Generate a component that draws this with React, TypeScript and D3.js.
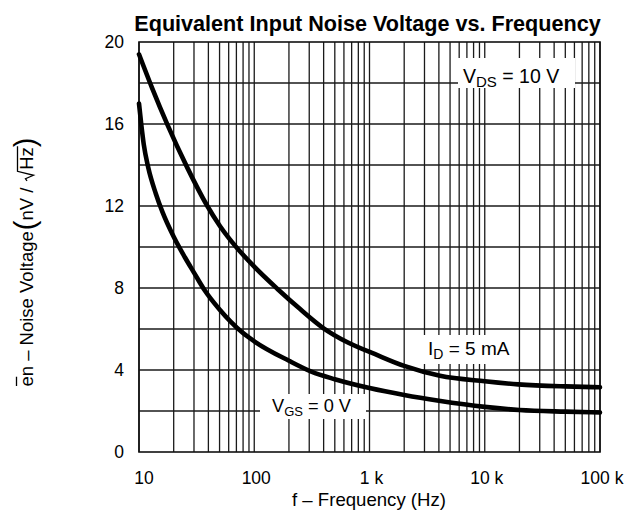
import React, { useLayoutEffect, useRef, useState } from 'react';
import * as d3 from 'd3';

// ---- data ----
const freqUpper = [10, 13, 17.6, 26.3, 38.6, 50, 63.7, 100, 160, 250, 394, 650, 1120, 2000, 4090, 10000, 19500, 50000, 100000];
const noiseUpper = [19.4, 17.75, 15.98, 13.86, 12.06, 11.05, 10.26, 9.04, 7.94, 6.97, 6.06, 5.34, 4.77, 4.2, 3.72, 3.45, 3.3, 3.2, 3.16];

const freqLower = [10, 10.5, 11, 12, 14, 16, 20, 25, 30, 37, 50, 78, 100, 200, 313, 500, 1000, 2000, 4000, 10000, 20000, 50000, 100000];
const noiseLower = [17.0, 15.9, 15.0, 13.9, 12.6, 11.7, 10.5, 9.5, 8.75, 7.9, 6.95, 5.85, 5.4, 4.45, 3.92, 3.55, 3.12, 2.78, 2.5, 2.2, 2.05, 1.97, 1.93];

const xTickValues = [10, 100, 1000, 10000, 100000];
const xTickLabels = ['10', '100', '1 k', '10 k', '100 k'];
const yTickValues = [0, 4, 8, 12, 16, 20];
const yGridValues = [2, 4, 6, 8, 10, 12, 14, 16, 18];
const decades = [10, 100, 1000, 10000];
const decadeSteps = [1, 2, 3, 4, 5, 6, 7, 8, 9];

const titleText = 'Equivalent Input Noise Voltage vs. Frequency';
const xTitle = 'f \u2013 Frequency (Hz)';

const FONT = "'Liberation Sans', Arial, Helvetica, sans-serif";
const W = 628;
const H = 512;
const PL = 139, PR = 600, PT = 42, PB = 452;

function YLabel() {
  const ref = useRef<SVGTextElement>(null);
  const [marks, setMarks] = useState<any>(null);
  useLayoutEffect(() => {
    const t = ref.current;
    if (!t) return;
    try {
      const e0 = t.getExtentOfChar(0);
      const hs = t.getExtentOfChar(25);
      const zs = t.getExtentOfChar(26);
      setMarks({
        bar: [e0.x + 0.5, e0.x + e0.width - 0.5],
        radX: hs.x,
        zEnd: zs.x + zs.width + 1,
      });
    } catch (err) {}
  }, []);
  const fs = 18.5;
  return (
    <g transform="translate(33,262) rotate(-90)">
      <text ref={ref} x={0} y={0} textAnchor="middle" fontFamily={FONT} fontSize={fs} fill="#000">
        <tspan>{'en \u2013 Noise Voltage'}</tspan>
        <tspan fontSize={29} dy={2} dx={1}>(</tspan>
        <tspan dy={-2}>{'nV / '}</tspan>
        <tspan>{'\u2009'}</tspan>
        <tspan dx={9}>Hz</tspan>
        <tspan fontSize={29} dy={2}>)</tspan>
      </text>
      {marks && (
        <g stroke="#000" fill="none" strokeWidth={1.3}>
          <line x1={marks.bar[0]} x2={marks.bar[1]} y1={-16.5} y2={-16.5} />
          <path
            d={`M${marks.radX - 11},${-6} L${marks.radX - 9},${-7.5} L${marks.radX - 5.5},${0.5} L${marks.radX - 1.5},${-15.5} H${marks.zEnd}`}
          />
        </g>
      )}
    </g>
  );
}

function BoxLabel({ x0, y0, w, h, tx, ty, main, sub, rest, fs, sfs }: any) {
  return (
    <g>
      <rect x={x0} y={y0} width={w} height={h} fill="#fff" />
      <text x={tx} y={ty} fontFamily={FONT} fontSize={fs} fill="#000">
        <tspan>{main}</tspan>
        <tspan fontSize={sfs} dy={4}>{sub}</tspan>
        <tspan dy={-4}>{rest}</tspan>
      </text>
    </g>
  );
}

export default function App() {
  const x = d3.scaleLog().domain([10, 100000]).range([PL, PR]);
  const y = d3.scaleLinear().domain([0, 20]).range([PB, PT]);
  const line = d3
    .line<[number, number]>()
    .x((d) => x(d[0]))
    .y((d) => y(d[1]))
    .curve(d3.curveMonotoneX);

  const upperPts: [number, number][] = freqUpper.map((f, i) => [f, noiseUpper[i]]);
  const lowerPts: [number, number][] = freqLower.map((f, i) => [f, noiseLower[i]]);

  const vGrid: number[] = [];
  decades.forEach((d) => decadeSteps.forEach((k) => vGrid.push(d * k)));
  vGrid.push(100000);

  return (
    <svg width={W} height={H} style={{ position: 'absolute', left: 0, top: 0, background: '#fff' }}>
      <rect x={0} y={0} width={W} height={H} fill="#fff" />
      <text x={(PL + PR) / 2 - 2} y={31} textAnchor="middle" fontFamily={FONT} fontSize={21.6} fontWeight="bold" fill="#000">
        {titleText}
      </text>

      {/* grid */}
      <g stroke="#1a1a1a" strokeWidth={1.3}>
        {vGrid.map((v, i) => (
          <line key={'v' + i} x1={x(v)} x2={x(v)} y1={PT} y2={PB} />
        ))}
        {yGridValues.map((v, i) => (
          <line key={'h' + i} x1={PL} x2={PR} y1={y(v)} y2={y(v)} />
        ))}
      </g>
      <rect x={PL} y={PT} width={PR - PL} height={PB - PT} fill="none" stroke="#111" strokeWidth={1.6} />

      {/* label boxes */}
      <BoxLabel x0={458} y0={58} w={117} h={30} tx={463} ty={83} main="V" sub="DS" rest=" = 10 V" fs={19.5} sfs={15} />
      <BoxLabel x0={423} y0={335} w={95} h={29} tx={428} ty={355} main="I" sub="D" rest=" = 5 mA" fs={19} sfs={14} />
      <BoxLabel x0={260} y0={394} w={106} h={25} tx={272} ty={412} main="V" sub="GS" rest=" = 0 V" fs={18.2} sfs={13} />

      {/* curves */}
      <path d={line(upperPts) || ''} fill="none" stroke="#000" strokeWidth={4.6} strokeLinecap="round" />
      <path d={line(lowerPts) || ''} fill="none" stroke="#000" strokeWidth={4.6} strokeLinecap="round" />

      {/* y ticks */}
      {yTickValues.map((v) => (
        <text key={'yt' + v} x={124} y={y(v) + 6} textAnchor="end" fontFamily={FONT} fontSize={17.5} fill="#000">
          {v}
        </text>
      ))}
      {/* x ticks */}
      {xTickValues.map((v, i) => (
        <text key={'xt' + v} x={x(v) + (i === 0 ? 5 : 2)} y={484} textAnchor="middle" fontFamily={FONT} fontSize={17.5} fill="#000">
          {xTickLabels[i]}
        </text>
      ))}
      <text x={369} y={505.5} textAnchor="middle" fontFamily={FONT} fontSize={18.6} fill="#000">
        {xTitle}
      </text>
      <YLabel />
    </svg>
  );
}
